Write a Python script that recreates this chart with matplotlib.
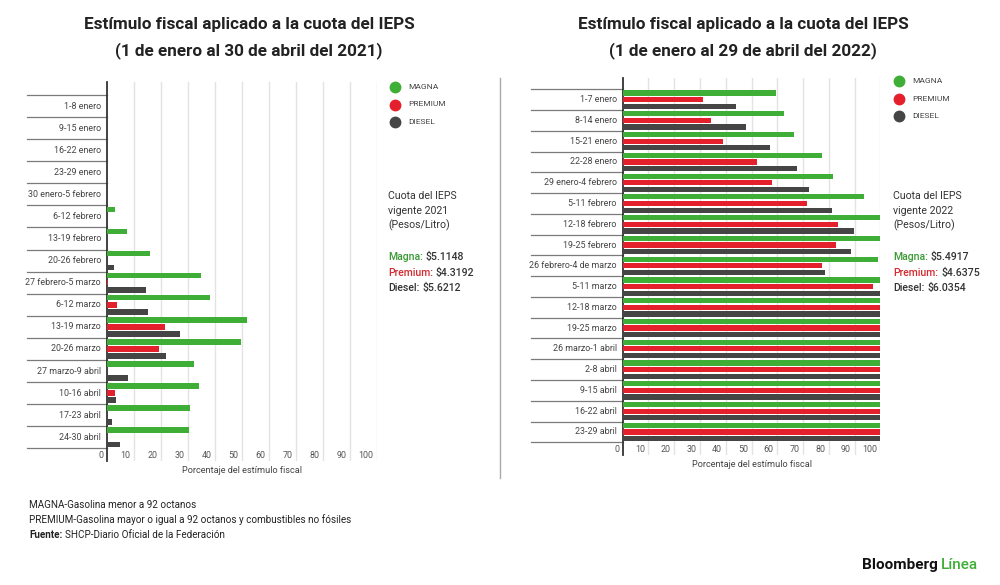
import matplotlib
matplotlib.use("Agg")
import matplotlib.pyplot as plt
from matplotlib.lines import Line2D
from matplotlib.transforms import offset_copy, blended_transform_factory

plt.rcParams['font.family'] = ['Roboto', 'DejaVu Sans']

# datos 2021 (porcentaje del estimulo fiscal)
weeks_2021 = ['1-8 enero', '9-15 enero', '16-22 enero', '23-29 enero',
              '30 enero-5 febrero', '6-12 febrero', '13-19 febrero', '20-26 febrero',
              '27 febrero-5 marzo', '6-12 marzo', '13-19 marzo', '20-26 marzo',
              '27 marzo-9 abril', '10-16 abril', '17-23 abril', '24-30 abril']
magna_2021 = [0, 0, 0, 0, 0, 3.0, 7.3, 16.0, 34.9, 38.0, 51.7, 49.8, 32.3, 34.0, 30.6, 30.4]
premium_2021 = [0, 0, 0, 0, 0, 0, 0, 0, 0.5, 3.6, 21.6, 19.1, 0, 3.0, 0, 0]
diesel_2021 = [0, 0, 0, 0, 0, 0, 0, 2.7, 14.6, 15.1, 27.2, 21.9, 7.8, 3.2, 1.9, 4.7]

# datos 2022
weeks_2022 = ['1-7 enero', '8-14 enero', '15-21 enero', '22-28 enero',
              '29 enero-4 febrero', '5-11 febrero', '12-18 febrero', '19-25 febrero',
              '26 febrero-4 de marzo', '5-11 marzo', '12-18 marzo', '19-25 marzo',
              '26 marzo-1 abril', '2-8 abril', '9-15 abril', '16-22 abril', '23-29 abril']
magna_2022 = [59.5, 62.5, 66.5, 77.2, 81.8, 93.5, 100, 100, 99.1, 100, 100, 100, 100, 100, 100, 100, 100]
premium_2022 = [31.3, 34.3, 38.9, 52.3, 58.0, 71.5, 83.6, 82.8, 77.5, 97.3, 100, 100, 100, 100, 100, 100, 100]
diesel_2022 = [44.0, 48.0, 57.3, 67.5, 72.2, 81.1, 89.6, 88.6, 78.7, 100, 100, 100, 100, 100, 100, 100, 100]

x_ticks = [0, 10, 20, 30, 40, 50, 60, 70, 80, 90, 100]
series_names = ['MAGNA', 'PREMIUM', 'DIESEL']
cuota_2021 = ['$5.1148', '$4.3192', '$5.6212']
cuota_2022 = ['$5.4917', '$4.6375', '$6.0354']

GREEN = '#3fae36'
RED = '#e3202b'
DARK = '#454545'
TXT = '#333333'

W, H = 1000, 585
fig = plt.figure(figsize=(W / 100, H / 100), dpi=100)


def fx(px):
    return px / W


def fy(py):
    return 1 - py / H


def panel(left, right, top, bottom, first_sep, last_sep, sep_left, weeks, series):
    n = len(weeks)
    ax = fig.add_axes([fx(left), fy(bottom), fx(right - left), fy(top) - fy(bottom)])
    row = (last_sep - first_sep) / n
    ax.set_xlim(0, 100)
    ax.set_ylim(n - 0.5 + (bottom - last_sep) / row, -0.5 - (first_sep - top) / row)
    offsets = [-0.32, 0, 0.32]
    for vals, col, off in zip(series, [GREEN, RED, DARK], offsets):
        ax.barh([i + off for i in range(n)], vals, height=0.25, color=col, zorder=3)
    for v in x_ticks[1:]:
        ax.axvline(v, color='#e3e3e3', lw=1, zorder=1)
    for s in ['top', 'right', 'bottom']:
        ax.spines[s].set_visible(False)
    ax.spines['left'].set_color('#333333')
    ax.spines['left'].set_linewidth(1.3)
    ax.set_xticks([])
    ax.set_yticks([])
    # separadores de filas a la izquierda del eje
    tr = blended_transform_factory(ax.transAxes, ax.transData)
    x0 = (sep_left - left) / (right - left)
    for b in range(n + 1):
        ax.plot([x0, 0], [b - 0.5, b - 0.5], color='#7a7a7a', lw=0.9,
                transform=tr, clip_on=False)
    lab_tr = offset_copy(tr, fig=fig, x=-6, units='dots')
    for i, w in enumerate(weeks):
        ax.text(0, i, w, transform=lab_tr, ha='right', va='center',
                fontsize=6.4, color='#444444')
    tick_y = n - 0.5 + 7.5 / row
    tick_tr = offset_copy(ax.transData, fig=fig, x=-3.5, units='dots')
    for v in x_ticks:
        ax.text(v, tick_y, str(v), transform=tick_tr, ha='right', va='center',
                fontsize=6.4, color='#555555')
    ax.text(50, tick_y + 14.5 / row, 'Porcentaje del estímulo fiscal', ha='center',
            va='center', fontsize=6.6, color='#444444')
    return ax


panel(107, 377, 82, 461, 95, 448.3, 27, weeks_2021,
      [magna_2021, premium_2021, diesel_2021])
panel(622.7, 880.3, 78, 455, 89.3, 442.3, 531, weeks_2022,
      [magna_2022, premium_2022, diesel_2022])

# titulos
for cx, yr in [(249, '(1 de enero al 30 de abril del 2021)'),
               (743, '(1 de enero al 29 de abril del 2022)')]:
    fig.text(fx(cx), fy(25), 'Estímulo fiscal aplicado a la cuota del IEPS',
             ha='center', va='center', fontsize=12.3, fontweight='bold',
             color='#222222')
    fig.text(fx(cx), fy(51), yr, ha='center', va='center', fontsize=12.3,
             fontweight='bold', color='#222222')

# leyendas
for lx, ly in [(395, 87), (899, 81)]:
    for k, (name, col) in enumerate(zip(series_names, [GREEN, RED, DARK])):
        yy = ly + k * 17.5
        fig.add_artist(Line2D([fx(lx)], [fy(yy)], marker='o', markersize=7.5,
                              color=col, linestyle='none'))
        fig.text(fx(lx + 13), fy(yy), name, ha='left', va='center',
                 fontsize=6, color='#444444')

# cuotas vigentes
for tx, year, vals in [(388, '2021', cuota_2021), (893, '2022', cuota_2022)]:
    for k, line in enumerate(['Cuota del IEPS', 'vigente ' + year, '(Pesos/Litro)']):
        fig.text(fx(tx), fy(196 + k * 14.5), line, ha='left', va='center',
                 fontsize=7.6, color=TXT)
    for k, (name, col) in enumerate(zip(['Magna:', 'Premium:', 'Diesel:'],
                                        ['#3a9a35', '#d42a30', TXT])):
        yy = fy(257 + k * 15.5)
        t = fig.text(fx(tx), yy, name, ha='left', va='center', fontsize=7.6,
                     color=col, fontweight='medium')
        fig.canvas.draw()
        bb = t.get_window_extent()
        fig.text(bb.x1 / W + 0.003, yy, vals[k], ha='left', va='center',
                 fontsize=7.6, color=TXT, fontweight='medium')

# divisor
fig.add_artist(Line2D([fx(500), fx(500)], [fy(78), fy(478)], color='#aaaaaa', lw=1))

# notas
FN = 7.1
fig.text(fx(29), fy(505), 'MAGNA-Gasolina menor a 92 octanos', ha='left', va='center',
         fontsize=FN, color='#222222')
fig.text(fx(29), fy(520), 'PREMIUM-Gasolina mayor o igual a 92 octanos y combustibles no fósiles',
         ha='left', va='center', fontsize=FN, color='#222222')
f1 = fig.text(fx(29), fy(535), 'Fuente:', ha='left', va='center', fontsize=FN,
              fontweight='bold', color='#222222')
fig.canvas.draw()
bb = f1.get_window_extent()
fig.text(bb.x1 / W + 0.003, fy(535), 'SHCP-Diario Oficial de la Federación', ha='left',
         va='center', fontsize=FN, color='#222222')

b1 = fig.text(fx(862), fy(565), 'Bloomberg', ha='left', va='center', fontsize=11,
              fontweight='bold', color='#111111')
fig.canvas.draw()
bb = b1.get_window_extent()
fig.text(bb.x1 / W + 0.003, fy(565), 'Línea', ha='left', va='center', fontsize=11,
         fontweight='medium', color='#3fae36')

fig.savefig('out.png', dpi=100, facecolor='white')
